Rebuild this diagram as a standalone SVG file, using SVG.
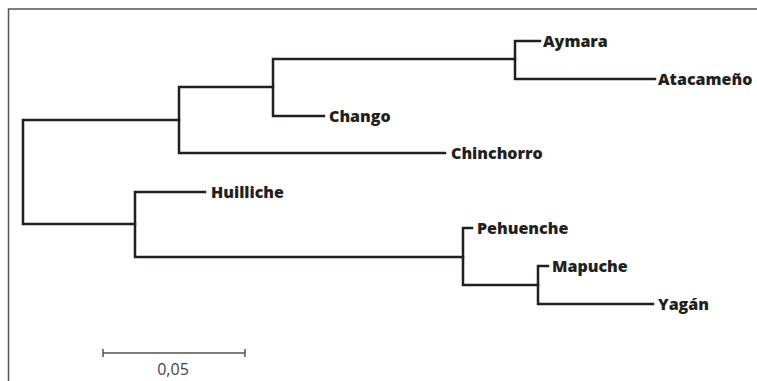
<svg xmlns="http://www.w3.org/2000/svg" width="757" height="381" viewBox="0 0 757 381">
  <style>
    .frame { fill: none; stroke: #555; stroke-width: 1.5; }
    .branch { fill: none; stroke: #231f20; stroke-width: 2.5; stroke-linecap: square; stroke-linejoin: miter; }
    .label { font-family: "Open Sans", "Noto Sans", "Liberation Sans", sans-serif; font-weight: 800; font-size: 16px; fill: #231f20; }
    .scale { fill: none; stroke: #555; stroke-width: 1.5; }
    .scale-label { font-family: "Open Sans", "Noto Sans", sans-serif; font-size: 16px; fill: #444; }
  </style>

  <!-- panel border -->
  <path class="frame" d="M8.5,381 V9 H757"/>

  <!-- tree branches -->
  <g id="connectors">
    <!-- root -->
    <path class="branch" d="M179,120 H23 V224 H135"/>
    <!-- northern clade -->
    <path class="branch" d="M273,87 H179 V153 H445"/>
    <path class="branch" d="M515,59 H273 V116 H324"/>
    <path class="branch" d="M540,41 H515 V79 H655"/>
    <!-- southern clade -->
    <path class="branch" d="M205,192 H135 V257 H463"/>
    <path class="branch" d="M472,228 H463 V285 H538"/>
    <path class="branch" d="M548,266 H538 V304 H653"/>
  </g>

  <!-- leaves -->
  <g id="aymara"><text class="label" x="543" y="46.5">Aymara</text></g>
  <g id="atacameno"><text class="label" x="658" y="84.5">Atacameño</text></g>
  <g id="chango"><text class="label" x="329" y="121.5">Chango</text></g>
  <g id="chinchorro"><text class="label" x="451" y="158.5">Chinchorro</text></g>
  <g id="huilliche"><text class="label" x="211" y="197.5">Huilliche</text></g>
  <g id="pehuenche"><text class="label" x="477" y="233.5">Pehuenche</text></g>
  <g id="mapuche"><text class="label" x="552" y="271.5">Mapuche</text></g>
  <g id="yagan"><text class="label" x="658" y="309.5">Yagán</text></g>

  <!-- scale bar -->
  <g id="scale-bar">
    <path class="scale" d="M103,353 H245 M103,349 V357 M245,349 V357"/>
    <text class="scale-label" x="173" y="375" text-anchor="middle">0,05</text>
  </g>
</svg>
